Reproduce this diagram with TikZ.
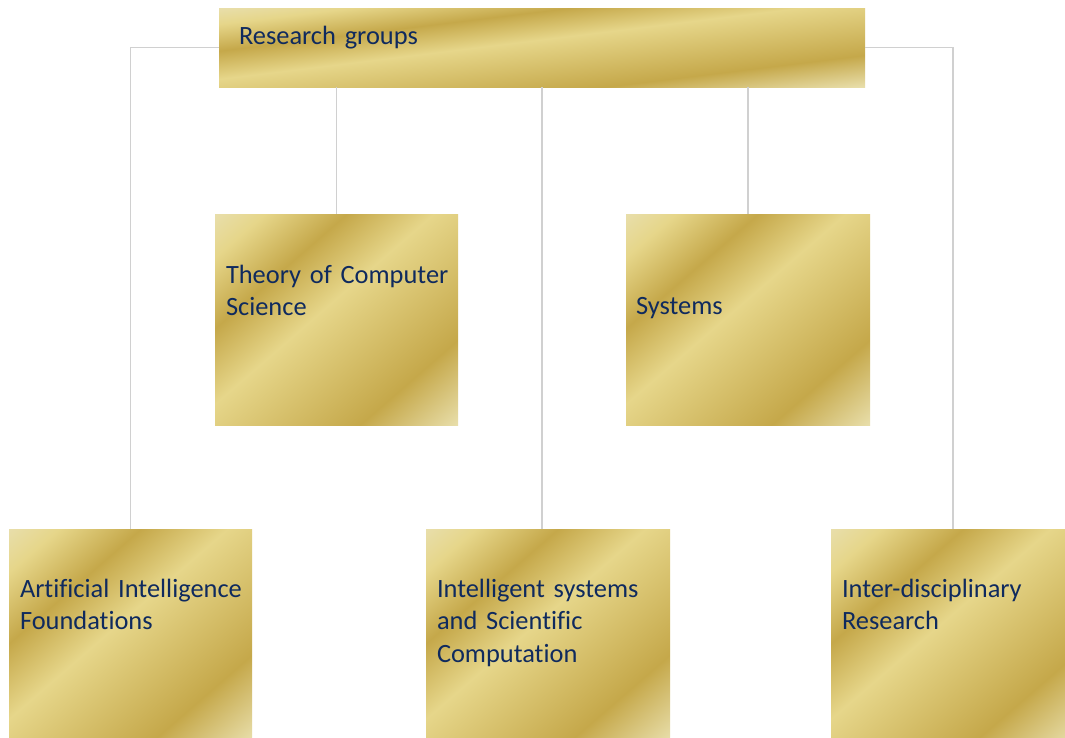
\documentclass[tikz,border=0pt]{standalone}
\usepackage{fontspec}
\setmainfont{Carlito}[Ligatures=NoCommon]
\definecolor{goldpale}{HTML}{E8DEAA}
\definecolor{goldlight}{HTML}{E6D68A}
\definecolor{golddark}{HTML}{C5A84A}
\definecolor{txtblue}{HTML}{0F2A5E}
\definecolor{connc}{HTML}{D0D0D0}
\pgfdeclarehorizontalshading{goldshade}{100bp}{%
  color(0bp)=(goldpale); color(14.6bp)=(goldpale); color(21.7bp)=(goldlight);
  color(33.7bp)=(golddark); color(46.4bp)=(goldlight); color(71.2bp)=(golddark);
  color(85.4bp)=(goldpale); color(100bp)=(goldpale)}
\tikzset{
  box/.style={anchor=north west, inner sep=0pt, outer sep=0pt, draw=none},
  goldfill/.style={shading=goldshade, shading angle=-45},
  lbl/.style={anchor=base west, inner sep=0pt, outer sep=0pt, text width=250pt,
    align=left, text=txtblue, font=\fontsize{26.4}{32.5}\selectfont},
  conn/.style={draw=connc, line width=1.5pt}
}
% named box node plus its gold fill, stretched like the original gradient
\newcommand\goldbox[5]{%
  \node[box, minimum width=#4pt, minimum height=#5pt] (#1) at (#2,#3) {};
  \begin{scope}[transform canvas={shift={(#1.center)}, xscale=#4/100, yscale=#5/100}]
    \shade[goldfill] (-50,-50) rectangle (50,50);
  \end{scope}}
\begin{document}
\begin{tikzpicture}[x=1pt,y=-1pt]
\useasboundingbox (0,0) rectangle (1065,737);
\clip (0,0) rectangle (1065,737);
\fill[white] (0,0) rectangle (1065,737);
% boxes
\goldbox{top}{219}{8}{646}{79}
\goldbox{theory}{215}{214}{243}{211}
\goldbox{systems}{626}{214}{244}{211}
\goldbox{ai}{9}{529}{243}{211}
\goldbox{isc}{426}{529}{244}{211}
\goldbox{idr}{831}{529}{244}{211}
% connectors
\draw[conn] (top.west) -| (ai.north);
\draw[conn] (top.east) -| (idr.north);
\draw[conn] (theory.north |- top.south) -- (theory.north);
\draw[conn] (systems.north |- top.south) -- (systems.north);
\draw[conn] (top.south) -- (top.south |- isc.north);
% texts
\node[lbl] (toptext) at (239,44) {Research groups};
\node[lbl] (theorytext) at (226,283) {Theory of Computer\\Science};
\node[lbl] (systemstext) at (636,314) {Systems};
\node[lbl] (aitext) at (20,597) {Artificial Intelligence\\Foundations};
\node[lbl] (isctext) at (437,597) {Intelligent systems\\and Scientific\\Computation};
\node[lbl] (idrtext) at (842,597) {Inter-disciplinary\\Research};
\end{tikzpicture}
\end{document}
